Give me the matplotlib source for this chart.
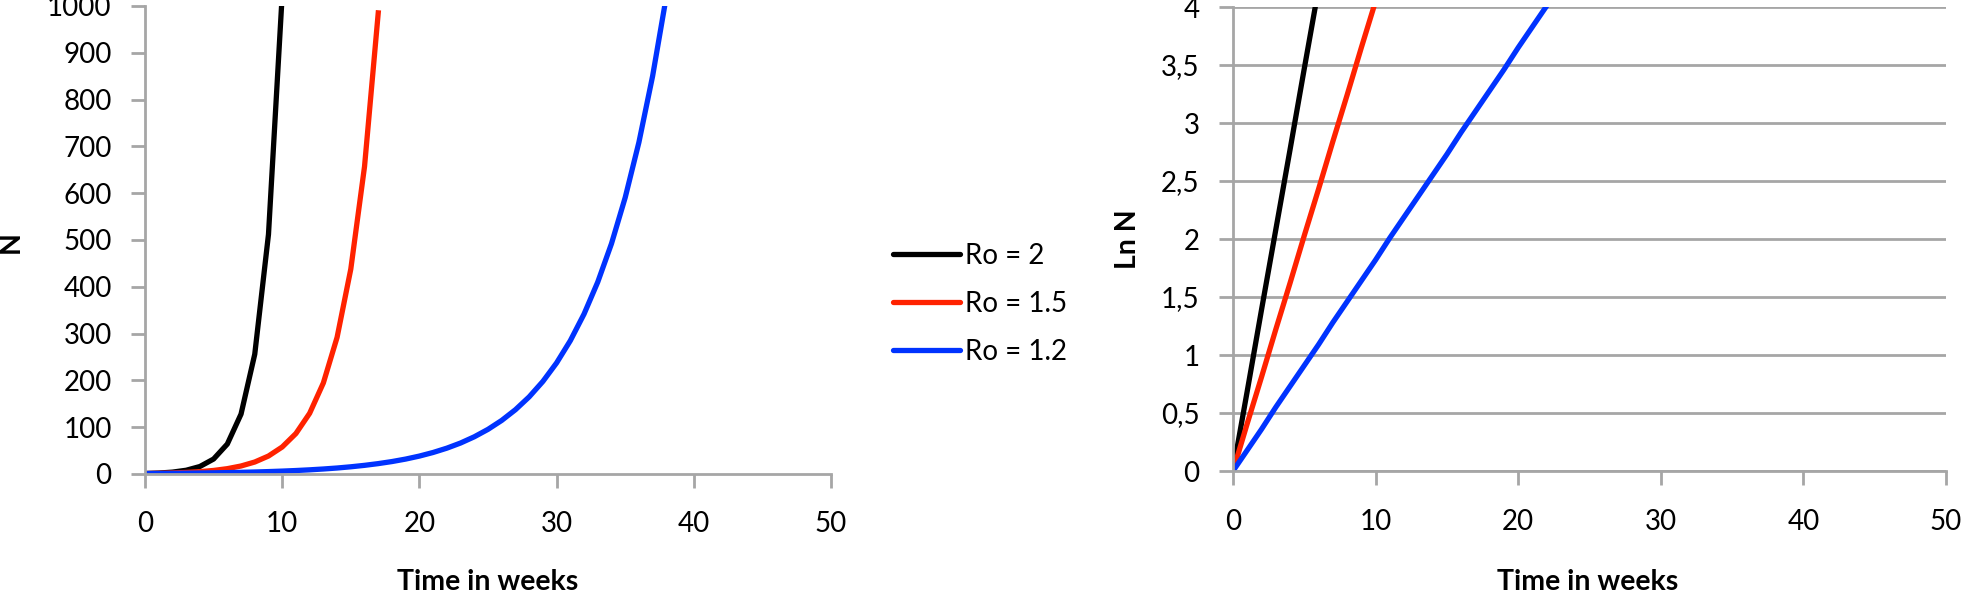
import matplotlib
matplotlib.use("Agg")
import matplotlib.pyplot as plt
from matplotlib.ticker import FuncFormatter

plt.rcParams["font.family"] = ["Lato", "DejaVu Sans"]

# N = Ro^t, weekly values
weeks_2 = [0, 1, 2, 3, 4, 5, 6, 7, 8, 9, 10]
n_2 = [1, 2, 4, 8, 16, 32, 64, 128, 256, 512, 1024]

weeks_15 = list(range(0, 18))
n_15 = [1, 1.5, 2.25, 3.38, 5.06, 7.59, 11.4, 17.1, 25.6, 38.4, 57.7,
        86.5, 129.7, 194.6, 291.9, 437.9, 656.8, 985.3]

weeks_12 = list(range(0, 39))
n_12 = [1, 1.2, 1.44, 1.73, 2.07, 2.49, 2.99, 3.58, 4.30, 5.16, 6.19,
        7.43, 8.92, 10.7, 12.8, 15.4, 18.5, 22.2, 26.6, 31.9, 38.3,
        46.0, 55.2, 66.2, 79.5, 95.4, 114.5, 137.4, 164.8, 197.8, 237.4,
        284.9, 341.8, 410.2, 492.2, 590.7, 708.8, 850.6, 1020.7]

# Ln N
lw_2 = [0, 1, 2, 3, 4, 5, 6]
ln_2 = [0, 0.69, 1.39, 2.08, 2.77, 3.47, 4.16]
lw_15 = [0, 1, 2, 3, 4, 5, 6, 7, 8, 9, 10]
ln_15 = [0, 0.41, 0.81, 1.22, 1.62, 2.03, 2.43, 2.84, 3.24, 3.65, 4.05]
lw_12 = list(range(0, 23))
ln_12 = [0, 0.18, 0.36, 0.55, 0.73, 0.91, 1.09, 1.28, 1.46, 1.64, 1.82,
         2.01, 2.19, 2.37, 2.55, 2.73, 2.92, 3.10, 3.28, 3.46, 3.65,
         3.83, 4.01]

labels = ["Ro = 2", "Ro = 1.5", "Ro = 1.2"]
colors = ["#000000", "#FF2200", "#0033FF"]

W, H = 1961, 591
fig = plt.figure(figsize=(W / 100, H / 100), dpi=100)

grey = "#A6A6A6"
fs = 20
lw = 3.8


def style(ax):
    for s in ["top", "right"]:
        ax.spines[s].set_visible(False)
    for s in ["left", "bottom"]:
        ax.spines[s].set_color(grey)
        ax.spines[s].set_linewidth(2)
    ax.tick_params(axis="both", colors=grey, width=2, length=10,
                   labelsize=fs, labelcolor="black")
    ax.tick_params(axis="y", pad=14)
    ax.tick_params(axis="x", pad=17)
    ax.set_xlim(0, 50)
    ax.set_xticks([0, 10, 20, 30, 40, 50])


ax1 = fig.add_axes([145 / W, 1 - 474 / H, 686 / W, 468 / H])
style(ax1)
ax1.set_ylim(0, 1000)
ax1.set_yticks(range(0, 1001, 100))
for x, y, c, lab in zip([weeks_2, weeks_15, weeks_12], [n_2, n_15, n_12], colors, labels):
    ax1.plot(x, y, color=c, lw=lw, label=lab)

ax2 = fig.add_axes([1233 / W, 1 - 471 / H, 713 / W, 464 / H])
style(ax2)
ax2.set_ylim(0, 4)
ax2.set_yticks([i * 0.5 for i in range(9)])
ax2.yaxis.set_major_formatter(FuncFormatter(lambda v, p: ("%g" % v).replace(".", ",")))
ax2.grid(axis="y", color=grey, lw=2)
ax2.set_axisbelow(True)
for x, y, c in zip([lw_2, lw_15, lw_12], [ln_2, ln_15, ln_12], colors):
    ax2.plot(x, y, color=c, lw=lw)

lfs = 20.5
fig.text(488 / W, 1 - 582 / H, "Time in weeks", ha="center", va="center",
         fontsize=lfs, fontweight="bold")
fig.text(1588 / W, 1 - 582 / H, "Time in weeks", ha="center", va="center",
         fontsize=lfs, fontweight="bold")
fig.text(11 / W, 1 - 242 / H, "N", ha="center", va="center", rotation=90,
         fontsize=lfs, fontweight="bold")
fig.text(1128 / W, 1 - 239 / H, "Ln N", ha="center", va="center", rotation=90,
         fontsize=lfs, fontweight="bold")

leg = fig.legend(*ax1.get_legend_handles_labels(), loc="center left",
                 bbox_to_anchor=(893 / W, 1 - 304 / H), frameon=False,
                 fontsize=fs, handlelength=2.4, handletextpad=0.2,
                 labelspacing=0.8, borderpad=0, borderaxespad=0)
for h in leg.get_lines():
    h.set_solid_capstyle("round")

fig.savefig("out.png", dpi=100)
